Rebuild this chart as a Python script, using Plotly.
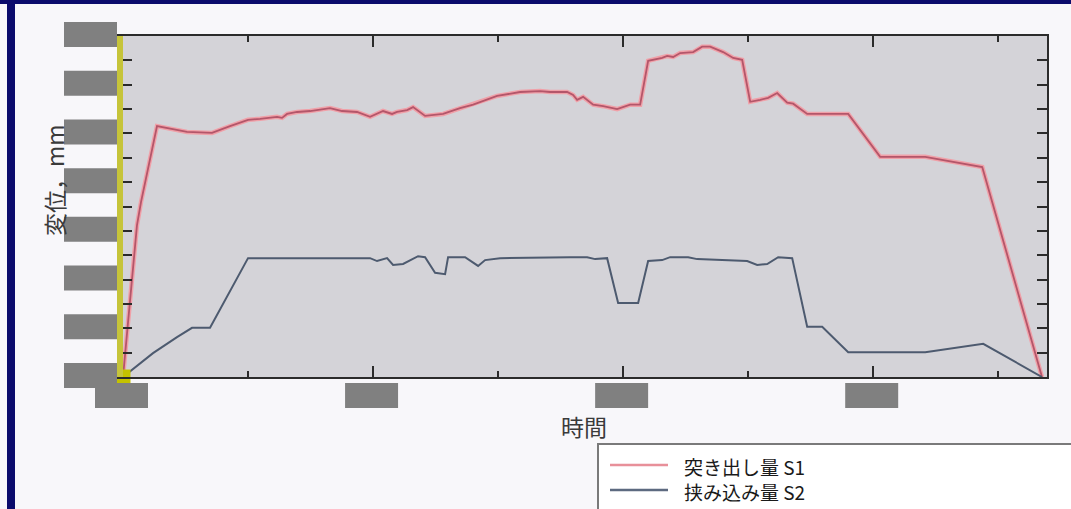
import plotly.graph_objects as go

# Measured displacement over time
time_s1 = [0, 0.56, 0.72, 1.36, 2.56, 3.56, 4.28, 5.0, 5.48, 6.16, 6.36, 6.56, 6.96, 7.48,
           8.28, 8.76, 9.36, 9.88, 10.4, 10.76, 10.96, 11.36, 11.6, 12.08, 12.8, 13.48, 14.0,
           14.96, 15.88, 16.68, 17.08, 17.76, 18.0, 18.16, 18.4, 18.8, 19.2, 19.76, 20.28,
           20.68, 21.0, 21.56, 21.76, 22.0, 22.28, 22.8, 23.16, 23.48, 24.0, 24.4, 24.76,
           25.08, 25.48, 25.8, 26.16, 26.56, 26.8, 27.36, 29.0, 30.28, 32.08, 34.36, 36.75]
s1 = [0, 31.2, 35.9, 51.5, 50.3, 50.1, 51.5, 52.8, 53.0, 53.4, 53.2, 54.0, 54.4, 54.6,
      55.2, 54.6, 54.4, 53.4, 54.6, 54.0, 54.4, 54.8, 55.4, 53.6, 54.0, 55.2, 55.9,
      57.7, 58.5, 58.7, 58.5, 58.5, 57.9, 56.9, 57.5, 55.9, 55.6, 55.0, 55.9,
      55.9, 64.9, 65.5, 65.9, 65.7, 66.5, 66.7, 67.8, 67.8, 66.7, 65.5, 65.1,
      56.5, 56.9, 57.3, 58.3, 56.3, 56.1, 54.0, 54.0, 45.2, 45.2, 43.1, 0]

time_s2 = [0, 1.2, 2.16, 2.76, 3.48, 5.0, 9.88, 10.16, 10.56, 10.8, 11.2, 11.8, 12.08, 12.48,
           12.88, 13.0, 13.68, 14.2, 14.48, 15.08, 17.88, 18.56, 18.88, 19.36, 19.8, 20.6,
           21.0, 21.56, 21.88, 22.6, 22.96, 24.96, 25.36, 25.76, 26.2, 26.76, 27.36, 27.96,
           29.0, 32.08, 34.4, 36.75]
s2 = [0, 4.9, 8.2, 10.1, 10.1, 24.4, 24.4, 23.8, 24.4, 23.0, 23.2, 24.8, 24.6, 21.4,
      21.1, 24.6, 24.6, 22.8, 24.0, 24.4, 24.6, 24.6, 24.2, 24.4, 15.2, 15.2,
      23.8, 24.0, 24.6, 24.6, 24.2, 23.8, 23.0, 23.2, 24.6, 24.4, 10.3, 10.3,
      5.1, 5.1, 6.8, 0]

series_names = ["突き出し量 S1", "挟み込み量 S2"]
x_title = "時間"
y_title = "変位，mm"

x_major = [0, 10, 20, 30]
y_major = [0, 10, 20, 30, 40, 50, 60, 70]
x_range = [0, 36.95]
y_range = [0, 70]

# figure geometry (pixels)
W, H = 1071, 509
ML, MR, MT, MB = 123, 24, 36, 132
PW, PH = W - ML - MR, H - MT - MB

def px(x):
    return (x - ML) / PW

def py(y):
    return (H - MB - y) / PH

RED_HALO, RED_CORE = "#f0a0a8", "#b4566a"
BLUE = "#4d5a6f"
AXIS = "#2b2b2b"
YELLOW = "#c6c43a"
BOX = "#808080"

fig = go.Figure()
fig.add_trace(go.Scatter(x=time_s1, y=s1, mode="lines",
                         line=dict(color=RED_HALO, width=4.5), hoverinfo="skip"))
fig.add_trace(go.Scatter(x=time_s1, y=s1, mode="lines", name=series_names[0],
                         line=dict(color=RED_CORE, width=1.8)))
fig.add_trace(go.Scatter(x=time_s2, y=s2, mode="lines", name=series_names[1],
                         line=dict(color=BLUE, width=2)))
# cursor marker at the origin
fig.add_trace(go.Scatter(x=[time_s1[0]], y=[s1[0]], mode="markers", cliponaxis=False,
                         marker=dict(symbol="square", size=15, color="#c4c200",
                                     line=dict(width=0))))

shapes = []
annotations = []

# navy window frame
shapes.append(dict(type="rect", xref="paper", yref="paper", layer="below",
                   x0=px(-5), x1=px(W + 10), y0=py(4), y1=py(-5),
                   fillcolor="#0b0b6c", line=dict(width=0)))
shapes.append(dict(type="rect", xref="paper", yref="paper", layer="below",
                   x0=px(7), x1=px(15), y0=py(H + 5), y1=py(-5),
                   fillcolor="#0b0b6c", line=dict(width=0)))

# tick label boxes
for v in y_major:
    c = (v - y_range[0]) / (y_range[1] - y_range[0]) * PH
    yc = H - MB - c - 1.5
    shapes.append(dict(type="rect", xref="paper", yref="paper", layer="above",
                       x0=px(64), x1=px(117), y0=py(yc + 12.5), y1=py(yc - 12.5),
                       fillcolor=BOX, line=dict(width=0)))
for v in x_major:
    c = ML + (v - x_range[0]) / (x_range[1] - x_range[0]) * PW - 1.5
    shapes.append(dict(type="rect", xref="paper", yref="paper", layer="above",
                       x0=px(c - 26.5), x1=px(c + 26.5), y0=py(408), y1=py(383),
                       fillcolor=BOX, line=dict(width=0)))

# legend panel
shapes.append(dict(type="rect", xref="paper", yref="paper", layer="above",
                   x0=px(598), x1=px(W + 20), y0=py(H + 20), y1=py(444),
                   fillcolor="#ffffff", line=dict(color="#7a7a7a", width=2)))
leg_colors = ["#e8909a", "#5d6a80"]
for i, (name, col) in enumerate(zip(series_names, leg_colors)):
    yy = 465 + i * 25
    shapes.append(dict(type="line", xref="paper", yref="paper", layer="above",
                       x0=px(610), x1=px(668), y0=py(yy), y1=py(yy),
                       line=dict(color=col, width=2.5)))
    annotations.append(dict(text=name, xref="paper", yref="paper",
                            x=px(682), y=py(yy + 1), xanchor="left", yanchor="middle",
                            showarrow=False,
                            font=dict(family="Noto Sans CJK JP", size=19, color="#1a1a1a")))

# axis titles
annotations.append(dict(text=x_title, xref="paper", yref="paper", x=px(584), y=py(426),
                        xanchor="center", yanchor="middle", showarrow=False,
                        font=dict(family="Noto Sans CJK JP", size=23, color="#3a3a3a")))
annotations.append(dict(text=y_title, xref="paper", yref="paper", x=px(54), y=py(180),
                        xanchor="center", yanchor="middle", showarrow=False, textangle=-90,
                        font=dict(family="Noto Sans CJK JP", size=23, color="#3a3a3a")))

fig.update_layout(
    width=W, height=H,
    margin=dict(l=ML, r=MR, t=MT, b=MB),
    paper_bgcolor="#f8f7fa",
    plot_bgcolor="#d4d3d8",
    showlegend=False,
    shapes=shapes,
    annotations=annotations,
    xaxis=dict(range=x_range, tickvals=x_major, showticklabels=False, showgrid=False,
               zeroline=False, showline=True, linecolor=AXIS, linewidth=2, mirror="ticks",
               ticks="inside", ticklen=11, tickwidth=2, tickcolor=AXIS,
               minor=dict(dtick=5, ticks="inside", ticklen=6, tickwidth=2,
                          tickcolor=AXIS, showgrid=False)),
    yaxis=dict(range=y_range, dtick=5, showticklabels=False, showgrid=False, zeroline=False,
               showline=True, linecolor=YELLOW, linewidth=6, mirror=False,
               ticks="inside", ticklen=9, tickwidth=2, tickcolor=AXIS),
    yaxis2=dict(range=y_range, dtick=5, overlaying="y", side="right",
                showticklabels=False, showgrid=False, zeroline=False,
                showline=True, linecolor=AXIS, linewidth=2,
                ticks="inside", ticklen=10, tickwidth=2, tickcolor=AXIS),
)
# a blank trace to bring up the right-hand axis
fig.add_trace(go.Scatter(x=[], y=[], yaxis="y2", showlegend=False))

fig.write_html("out.html")
